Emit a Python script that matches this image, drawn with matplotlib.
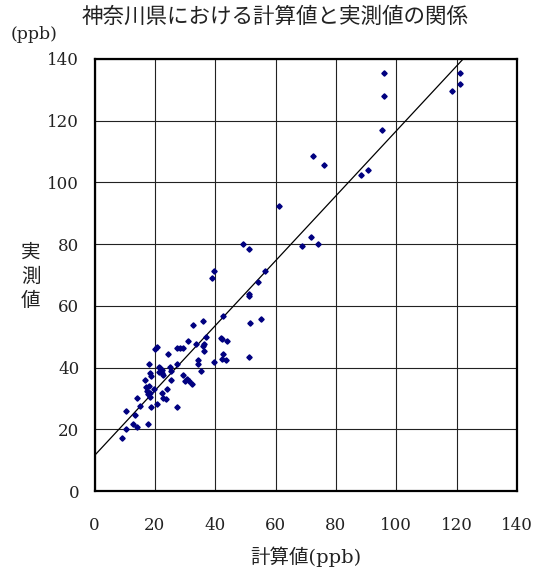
import matplotlib
matplotlib.use("Agg")
import matplotlib.pyplot as plt
import numpy as np

# 計算値 (x) と 実測値 (y), ppb
calc = [96.0, 96.0, 95.4, 121.0, 121.0, 118.6,
        72.3, 75.9, 88.2, 90.6, 61.2,
        49.2, 51.1, 68.8, 71.7, 74.2,
        39.5, 38.8, 56.6, 54.1, 51.1, 51.1,
        42.5, 51.6, 55.3, 32.6, 35.9, 51.1,
        20.1, 20.7, 24.2, 27.3, 28.2, 29.2, 31.0, 33.5, 36.2, 35.9, 37.0, 36.4,
        34.4, 34.3, 35.2, 41.9, 42.3, 43.9, 42.6, 42.3, 43.7, 39.6,
        27.3, 25.1, 21.4, 21.7, 22.5, 21.5, 22.3, 22.6, 25.2,
        18.2, 18.3, 18.8, 16.8, 25.2, 29.2, 30.7, 31.2, 30.0, 32.2,
        17.2, 18.2, 17.4, 18.3, 17.8, 18.4, 19.6, 24.1, 22.5, 22.7, 23.8,
        14.1, 15.2, 18.7, 20.7, 27.3,
        10.3, 13.3, 12.7, 14.0, 17.6, 10.3, 9.0]
meas = [135.4, 127.9, 116.9, 135.4, 132.0, 129.6,
        108.6, 105.7, 102.3, 104.0, 92.3,
        80.1, 78.3, 79.4, 82.4, 80.1,
        71.3, 69.0, 71.3, 67.8, 63.7, 63.1,
        56.7, 54.4, 55.6, 53.8, 55.0, 43.4,
        45.9, 46.8, 44.5, 46.2, 46.2, 46.2, 48.6, 47.6, 47.6, 47.0, 49.8, 45.3,
        42.3, 41.3, 38.8, 49.7, 49.1, 48.6, 44.5, 42.7, 42.4, 41.8,
        41.0, 40.2, 40.1, 39.9, 39.2, 38.6, 38.4, 37.5, 38.8,
        41.0, 38.3, 37.3, 35.9, 36.1, 37.5, 36.3, 35.7, 35.6, 34.6,
        33.6, 34.0, 32.4, 31.9, 31.3, 30.5, 32.9, 33.0, 31.8, 30.0, 29.7,
        30.0, 27.5, 27.1, 28.2, 27.1,
        25.8, 24.6, 21.7, 20.7, 21.7, 20.0, 17.2]

# 近似直線 y = a x + b
slope = 1.052
intercept = 11.5

ticks = [0, 20, 40, 60, 80, 100, 120, 140]

latin_cjk = ['DejaVu Serif', 'Noto Sans CJK JP']

fig = plt.figure(figsize=(5.37, 5.67), dpi=100)
ax = fig.add_axes([0.176, 0.134, 0.7868, 0.762])

ax.set_xlim(0, 140)
ax.set_ylim(0, 140)
ax.set_xticks(ticks)
ax.set_yticks(ticks)
ax.grid(True, color='#222222', linewidth=0.8)
ax.set_axisbelow(True)
for s in ax.spines.values():
    s.set_linewidth(1.6)
    s.set_color('black')
ax.tick_params(axis='both', length=0, labelsize=12)
ax.tick_params(axis='x', pad=19)
ax.tick_params(axis='y', pad=11)
for lab in ax.get_xticklabels() + ax.get_yticklabels():
    lab.set_family('DejaVu Serif')
    lab.set_color('#222222')

x_end = (140 - intercept) / slope
xl = np.array([0, x_end])
ax.plot(xl, slope * xl + intercept, color='black', linewidth=0.9, zorder=3)

ax.plot(calc, meas, linestyle='none', marker='D', markersize=2.7,
        color='#000080', zorder=4, clip_on=False)

fig.text(0.512, 0.970, '神奈川県における計算値と実測値の関係', ha='center', va='center',
         fontsize=15.5, family=latin_cjk, color='#222222')
fig.text(0.019, 0.940, '(ppb)', ha='left', va='center', fontsize=12.5,
         family=latin_cjk, color='#222222')
fig.text(0.057, 0.512, '実\n測\n値', ha='center', va='center', fontsize=14,
         family=latin_cjk, color='#222222', linespacing=1.42)
fig.text(0.569, 0.018, '計算値(ppb)', ha='center', va='center', fontsize=14,
         family=latin_cjk, color='#222222')

fig.savefig('out.png', dpi=100)
